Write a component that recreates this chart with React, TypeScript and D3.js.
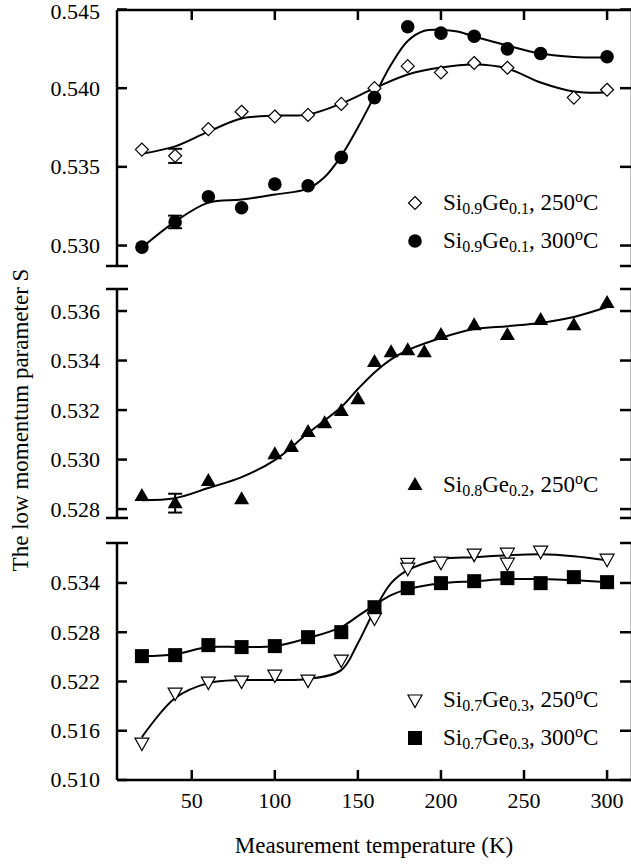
import React from "react";
import * as d3 from "d3";

// Si0.9Ge0.1 panel
const T_SI09_250 = [20, 40, 60, 80, 100, 120, 140, 160, 180, 200, 220, 240, 280, 300];
const S_SI09_250 = [0.5361, 0.5357, 0.5374, 0.5385, 0.5382, 0.5383, 0.539, 0.54, 0.5414, 0.541, 0.5416, 0.5413, 0.5394, 0.5399];
const T_SI09_300 = [20, 40, 60, 80, 100, 120, 140, 160, 180, 200, 220, 240, 260, 300];
const S_SI09_300 = [0.5299, 0.5315, 0.5331, 0.5324, 0.5339, 0.5338, 0.5356, 0.5394, 0.5439, 0.5435, 0.5433, 0.5425, 0.5422, 0.542];
const FIT_T_SI09_250 = [20, 40, 60, 80, 100, 120, 140, 160, 180, 200, 220, 240, 260, 280, 300];
const FIT_SI09_250 = [0.53584, 0.5363, 0.53724, 0.53807, 0.53826, 0.53832, 0.53902, 0.54, 0.54087, 0.54131, 0.5415, 0.54125, 0.54036, 0.53979, 0.53972];
const FIT_T_SI09_300 = [20, 40, 60, 80, 100, 120, 130, 140, 150, 160, 170, 180, 190, 200, 210, 220, 240, 260, 280, 300];
const FIT_SI09_300 = [0.52987, 0.53152, 0.53273, 0.53292, 0.53324, 0.53362, 0.53435, 0.5357, 0.5375, 0.5395, 0.5415, 0.543, 0.54365, 0.5437, 0.5436, 0.54328, 0.54271, 0.5422, 0.54198, 0.54195];

// Si0.8Ge0.2 panel
const T_SI08_250 = [20, 40, 60, 80, 100, 110, 120, 130, 140, 150, 160, 170, 180, 190, 200, 220, 240, 260, 280, 300];
const S_SI08_250 = [0.52853, 0.52824, 0.52913, 0.5284, 0.53022, 0.53051, 0.53111, 0.53147, 0.53196, 0.53244, 0.53394, 0.53434, 0.53442, 0.53434, 0.53503, 0.53543, 0.53503, 0.53564, 0.53543, 0.53632];
const FIT_T_SI08_250 = [20, 40, 60, 80, 100, 120, 140, 150, 160, 170, 180, 200, 220, 240, 260, 280, 300];
const FIT_SI08_250 = [0.52836, 0.52844, 0.52885, 0.52929, 0.52998, 0.53107, 0.53212, 0.53285, 0.53352, 0.53405, 0.53442, 0.53491, 0.53527, 0.53539, 0.53552, 0.53576, 0.53616];

// Si0.7Ge0.3 panel
const T_SI07_250 = [20, 40, 60, 80, 100, 120, 140, 160, 180, 180, 200, 220, 240, 240, 260, 300];
const S_SI07_250 = [0.5145, 0.52059, 0.52193, 0.52205, 0.52278, 0.52217, 0.5246, 0.52972, 0.5364, 0.5358, 0.53653, 0.53751, 0.53763, 0.53641, 0.53787, 0.5369];
const T_SI07_300 = [20, 40, 60, 80, 100, 120, 140, 160, 180, 200, 220, 240, 260, 280, 300];
const S_SI07_300 = [0.52509, 0.52521, 0.52643, 0.52619, 0.52631, 0.5274, 0.52801, 0.53105, 0.53337, 0.53398, 0.53422, 0.53459, 0.53398, 0.53471, 0.5341];
const FIT_T_SI07 = [20, 40, 60, 80, 100, 120, 140, 150, 160, 170, 180, 200, 220, 240, 260, 280, 300];
const FIT_SI07_250 = [0.51523, 0.51998, 0.5218, 0.52217, 0.52217, 0.5223, 0.52339, 0.52667, 0.53069, 0.53398, 0.53556, 0.5369, 0.53714, 0.53738, 0.5375, 0.53726, 0.53677];
const FIT_SI07_300 = [0.52509, 0.52533, 0.52619, 0.52619, 0.52631, 0.52728, 0.52862, 0.52996, 0.5313, 0.53251, 0.53325, 0.53398, 0.53422, 0.53447, 0.53447, 0.53434, 0.5341];

// error bars (temperature, half-width)
const ERR_SI09_250 = [[40, 0.00045]];
const ERR_SI09_300 = [[40, 0.0004]];
const ERR_SI08_250 = [[40, 0.00038]];

const X_TICKS = [50, 100, 150, 200, 250, 300];
const TICKS_TOP = [0.53, 0.535, 0.54, 0.545];
const TICKS_MID = [0.528, 0.53, 0.532, 0.534, 0.536];
const TICKS_BOT = [0.51, 0.516, 0.522, 0.528, 0.534];

const FONT = "Liberation Serif, DejaVu Serif, serif";
const TICK_SIZE = 22;
const TEXT_SIZE = 23;
const LEFT = 117;
const RIGHT = 632;
const x = d3.scaleLinear().domain([5, 315]).range([LEFT, RIGHT]);
const yTop = d3.scaleLinear().domain([0.5287, 0.545]).range([266, 9.5]);
const yMid = d3.scaleLinear().domain([0.52764, 0.53689]).range([518, 289]);
const yBot = d3.scaleLinear().domain([0.51, 0.53887]).range([780, 543]);
const fmt = d3.format(".3f");

type Scale = d3.ScaleLinear<number, number>;

const fitPath = (ts: number[], vs: number[], y: Scale) =>
  d3
    .line<number>()
    .x((_, i) => x(ts[i]))
    .y((v) => y(v))
    .curve(d3.curveCatmullRom.alpha(0.5))(vs) || "";

const Marker = ({ kind, cx, cy }: { kind: string; cx: number; cy: number }) => {
  if (kind === "diamond")
    return <path d={`M${cx},${cy - 6.5}L${cx + 6.5},${cy}L${cx},${cy + 6.5}L${cx - 6.5},${cy}Z`} fill="white" stroke="black" strokeWidth={1.2} />;
  if (kind === "circle") return <circle cx={cx} cy={cy} r={6.8} fill="black" />;
  if (kind === "up")
    return <path d={`M${cx},${cy - 8}L${cx + 7.5},${cy + 5}L${cx - 7.5},${cy + 5}Z`} fill="black" />;
  if (kind === "down")
    return <path d={`M${cx - 7},${cy - 5}L${cx + 7},${cy - 5}L${cx},${cy + 7.5}Z`} fill="white" stroke="black" strokeWidth={1.2} />;
  return <rect x={cx - 7} y={cy - 7} width={14} height={14} fill="black" />;
};

const Series = ({ ts, vs, y, kind }: { ts: number[]; vs: number[]; y: Scale; kind: string }) => (
  <g>
    {vs.map((v, i) => (
      <Marker key={i} kind={kind} cx={x(ts[i])} cy={y(v)} />
    ))}
  </g>
);

const ErrorBars = ({ errs, ts, vs, y }: { errs: number[][]; ts: number[]; vs: number[]; y: Scale }) => (
  <g stroke="black" strokeWidth={2}>
    {errs.map(([t, e], i) => {
      const v = vs[ts.indexOf(t)];
      const cx = x(t);
      return (
        <g key={i}>
          <line x1={cx} x2={cx} y1={y(v - e)} y2={y(v + e)} />
          <line x1={cx - 7} x2={cx + 7} y1={y(v - e)} y2={y(v - e)} />
          <line x1={cx - 7} x2={cx + 7} y1={y(v + e)} y2={y(v + e)} />
        </g>
      );
    })}
  </g>
);

const YAxis = ({ y, ticks, y0, y1, capTop, capBottom }: { y: Scale; ticks: number[]; y0: number; y1: number; capTop: boolean; capBottom: boolean }) => (
  <g stroke="black" strokeWidth={2.5}>
    <line x1={LEFT} x2={LEFT} y1={y0} y2={y1} />
    <line x1={RIGHT} x2={RIGHT} y1={y0} y2={y1} />
    {capTop && <line x1={LEFT - 11} x2={LEFT + 11} y1={y0} y2={y0} />}
    {capBottom && <line x1={LEFT - 11} x2={LEFT + 11} y1={y1} y2={y1} />}
    {capTop && <line x1={RIGHT - 12} x2={RIGHT} y1={y0} y2={y0} />}
    {capBottom && <line x1={RIGHT - 12} x2={RIGHT} y1={y1} y2={y1} />}
    {ticks.map((t) => (
      <g key={t}>
        <line x1={LEFT} x2={LEFT + 10} y1={y(t)} y2={y(t)} />
        <line x1={RIGHT - 12} x2={RIGHT} y1={y(t)} y2={y(t)} />
        <text x={100} y={Math.max(y(t), 12)} dy="0.34em" textAnchor="end" stroke="none" fill="black" fontSize={TICK_SIZE} style={{ fontFamily: FONT }}>
          {fmt(t)}
        </text>
      </g>
    ))}
  </g>
);

const LegendItem = ({ kind, y, si, ge, temp }: { kind: string; y: number; si: string; ge: string; temp: string }) => (
  <g>
    <Marker kind={kind} cx={415} cy={y - 7} />
    <text x={443} y={y} fontSize={TEXT_SIZE} style={{ fontFamily: FONT }} fill="black">
      Si
      <tspan fontSize={16} dy={4}>{si}</tspan>
      <tspan dy={-4}>Ge</tspan>
      <tspan fontSize={16} dy={4}>{ge}</tspan>
      <tspan dy={-4}>, {temp}</tspan>
      <tspan fontSize={16} dy={-8}>o</tspan>
      <tspan dy={8}>C</tspan>
    </text>
  </g>
);

export default function App() {
  return (
    <svg width={631} height={864} style={{ position: "absolute", left: 0, top: 0 }}>
      <rect width={631} height={864} fill="white" />
      {/* frame pieces */}
      <g stroke="black" strokeWidth={2.5}>
        <line x1={LEFT} x2={RIGHT} y1={10} y2={10} />
        <line x1={LEFT} x2={RIGHT} y1={780} y2={780} />
        {X_TICKS.map((t) => (
          <g key={t}>
            <line x1={x(t)} x2={x(t)} y1={10} y2={20} />
            <line x1={x(t)} x2={x(t)} y1={780} y2={770} />
          </g>
        ))}
      </g>
      {X_TICKS.map((t) => (
        <text key={t} x={x(t)} y={808} textAnchor="middle" fontSize={TICK_SIZE} style={{ fontFamily: FONT }}>
          {t}
        </text>
      ))}
      <YAxis y={yTop} ticks={TICKS_TOP} y0={10} y1={266} capTop={false} capBottom={true} />
      <YAxis y={yMid} ticks={TICKS_MID} y0={289} y1={518} capTop={true} capBottom={true} />
      <YAxis y={yBot} ticks={TICKS_BOT} y0={543} y1={780} capTop={true} capBottom={false} />

      {/* fits */}
      <g fill="none" stroke="black" strokeWidth={2}>
        <path d={fitPath(FIT_T_SI09_250, FIT_SI09_250, yTop)} />
        <path d={fitPath(FIT_T_SI09_300, FIT_SI09_300, yTop)} />
        <path d={fitPath(FIT_T_SI08_250, FIT_SI08_250, yMid)} />
        <path d={fitPath(FIT_T_SI07, FIT_SI07_250, yBot)} />
        <path d={fitPath(FIT_T_SI07, FIT_SI07_300, yBot)} />
      </g>

      <ErrorBars errs={ERR_SI09_250} ts={T_SI09_250} vs={S_SI09_250} y={yTop} />
      <ErrorBars errs={ERR_SI09_300} ts={T_SI09_300} vs={S_SI09_300} y={yTop} />
      <ErrorBars errs={ERR_SI08_250} ts={T_SI08_250} vs={S_SI08_250} y={yMid} />

      <Series ts={T_SI09_250} vs={S_SI09_250} y={yTop} kind="diamond" />
      <Series ts={T_SI09_300} vs={S_SI09_300} y={yTop} kind="circle" />
      <Series ts={T_SI08_250} vs={S_SI08_250} y={yMid} kind="up" />
      <Series ts={T_SI07_250} vs={S_SI07_250} y={yBot} kind="down" />
      <Series ts={T_SI07_300} vs={S_SI07_300} y={yBot} kind="square" />

      <LegendItem kind="diamond" y={210} si="0.9" ge="0.1" temp="250" />
      <LegendItem kind="circle" y={248} si="0.9" ge="0.1" temp="300" />
      <LegendItem kind="up" y={492} si="0.8" ge="0.2" temp="250" />
      <LegendItem kind="down" y={707} si="0.7" ge="0.3" temp="250" />
      <LegendItem kind="square" y={745} si="0.7" ge="0.3" temp="300" />

      <text x={374} y={853} textAnchor="middle" fontSize={TEXT_SIZE} style={{ fontFamily: FONT }}>
        Measurement temperature (K)
      </text>
      <text transform="translate(28,420) rotate(-90)" textAnchor="middle" fontSize={TEXT_SIZE} style={{ fontFamily: FONT }}>
        The low momentum parameter S
      </text>
    </svg>
  );
}
